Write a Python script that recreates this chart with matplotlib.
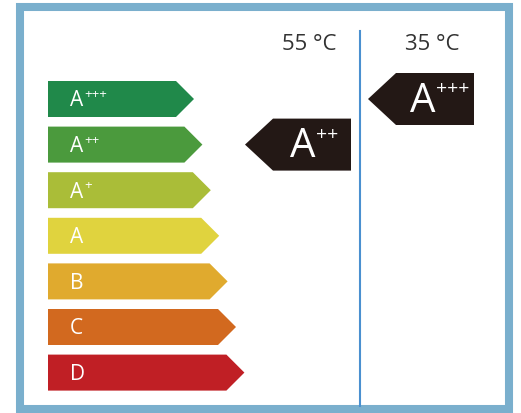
import matplotlib.pyplot as plt
from matplotlib.patches import Polygon, Rectangle

# energy classes, top to bottom
classes = ["A", "A", "A", "A", "B", "C", "D"]
class_sup = ["+++", "++", "+", "", "", "", ""]
class_colors = ["#20894a", "#4b9a3d", "#aabd38", "#e0d33e", "#e0aa2e", "#d2691f", "#c01f25"]

# heating temperature columns and their rating
temps = ["55 °C", "35 °C"]
rating_idx = [1, 0]  # index into classes: A++ and A+++

plt.rcParams["font.family"] = ["Open Sans", "DejaVu Sans"]

fig = plt.figure(figsize=(5.21, 4.14), dpi=100)
ax = fig.add_axes([0, 0, 1, 1])
ax.set_xlim(0, 521)
ax.set_ylim(414, 0)
ax.axis("off")

# frame
ax.add_patch(Rectangle((20, 8), 489, 402, fill=False, edgecolor="#7aafcd", linewidth=5.8))

row0, row_step, bar_h = 100, 45.6, 36
x_left, tip0, tip_step = 48, 194, 8.4

for i, (c, s, col) in enumerate(zip(classes, class_sup, class_colors)):
    yc = row0 + i * row_step
    tip = tip0 + i * tip_step
    body = tip - bar_h / 2
    pts = [(x_left, yc - bar_h / 2), (body, yc - bar_h / 2), (tip, yc),
           (body, yc + bar_h / 2), (x_left, yc + bar_h / 2)]
    ax.add_patch(Polygon(pts, closed=True, facecolor=col, edgecolor="none"))
    ax.text(70, yc + 1, c, color="white", fontsize=15, fontweight="medium",
            va="center", ha="left")
    if s:
        ax.text(84, yc - 5.5, s, color="white", fontsize=9.5, fontweight="medium",
                va="center", ha="left")

# divider between columns
ax.plot([360, 360], [32, 407], color="#4a90d0", linewidth=1.5)

col_dx = 123
arr_h = 52
for k, (temp, r) in enumerate(zip(temps, rating_idx)):
    xc = 309 + k * col_dx
    ax.text(xc, 44, temp, fontsize=16, color="#333333", ha="center", va="center")
    yc = row0 + r * row_step
    tip = 245 + k * col_dx
    right = 351 + k * col_dx
    body = tip + arr_h / 2 + 2
    pts = [(tip, yc), (body, yc - arr_h / 2), (right, yc - arr_h / 2),
           (right, yc + arr_h / 2), (body, yc + arr_h / 2)]
    ax.add_patch(Polygon(pts, closed=True, facecolor="#231815", edgecolor="none"))
    a_right = right - 30 - 3 * len(class_sup[r])
    ax.text(a_right, yc + 1.5, classes[r], color="white", fontsize=29,
            fontweight="medium", ha="right", va="center")
    ax.text(a_right + 1, yc - 11, class_sup[r], color="white", fontsize=14,
            fontweight="medium", ha="left", va="center")

fig.savefig("out.png", dpi=100)
